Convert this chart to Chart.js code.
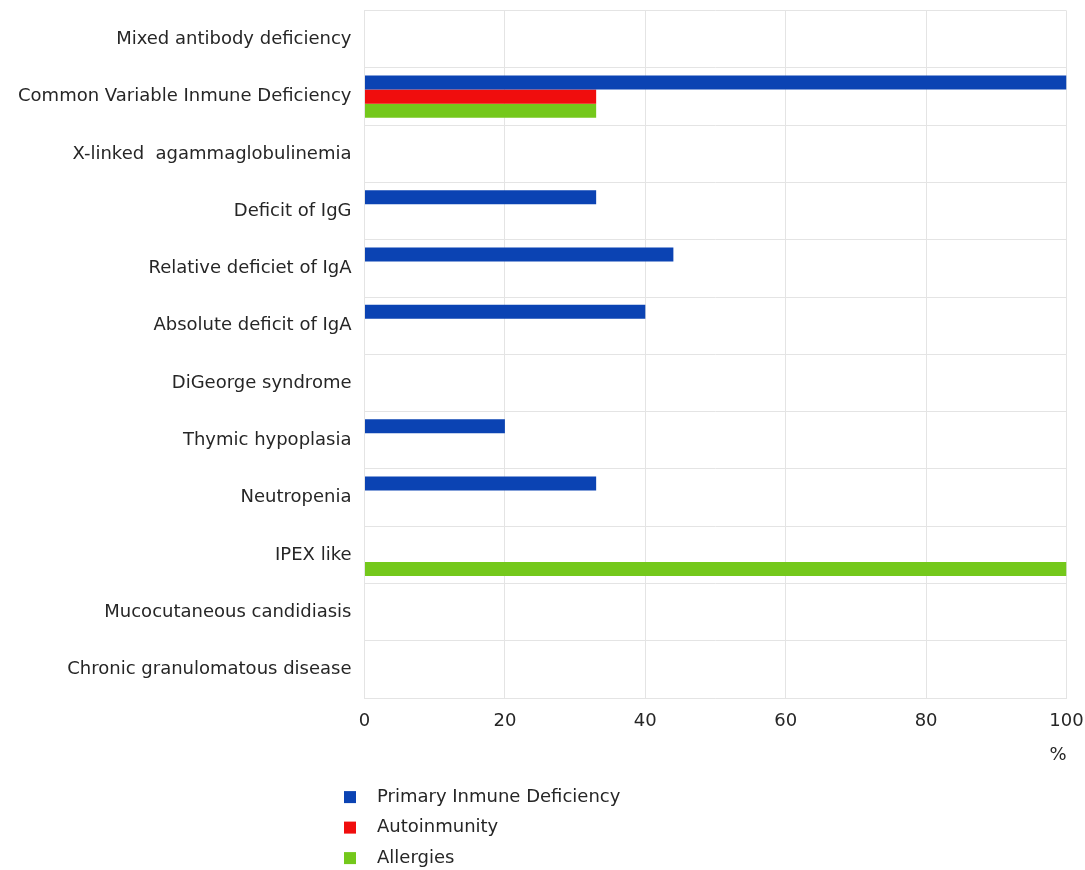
<!DOCTYPE html>
<html>
<head>
<meta charset="utf-8">
<script src="https://cdn.jsdelivr.net/npm/chart.js@4.4.1/dist/chart.umd.min.js"></script>
<style>
  html, body { margin: 0; padding: 0; background: #ffffff; }
  #wrap { position: relative; width: 1085px; height: 870px; }
</style>
</head>
<body>
<div id="wrap"><canvas id="chart" width="1085" height="870"></canvas></div>
<script>
// Disorders shown on the category axis, top to bottom
const categories = [
  'Mixed antibody deficiency',
  'Common Variable Inmune Deficiency',
  'X-linked  agammaglobulinemia',
  'Deficit of IgG',
  'Relative deficiet of IgA',
  'Absolute deficit of IgA',
  'DiGeorge syndrome',
  'Thymic hypoplasia',
  'Neutropenia',
  'IPEX like',
  'Mucocutaneous candidiasis',
  'Chronic granulomatous disease'
];

// Percentages per disorder
const primaryDeficiency = [0, 100, 0, 33, 44, 40, 0, 20, 33, 0, 0, 0];
const autoimmunity      = [0, 33, 0, 0, 0, 0, 0, 0, 0, 0, 0, 0];
const allergies         = [0, 33, 0, 0, 0, 0, 0, 0, 0, 100, 0, 0];

const seriesNames = ['Primary Inmune Deficiency', 'Autoinmunity', 'Allergies'];
const seriesColors = ['#0b43b3', '#f00d0d', '#74c81b'];

const xTicks = [0, 20, 40, 60, 80, 100];
const xUnit = '%';

const FONT = 'DejaVu Sans';
const TEXT = '#262626';
const GRID = '#e4e4e4';

// Vertical legend drawn under the axis, left side
const stackedLegend = {
  id: 'stackedLegend',
  afterDraw(chart) {
    const ctx = chart.ctx;
    const base = chart.chartArea.bottom + 99;
    ctx.save();
    ctx.font = '18px "' + FONT + '"';
    ctx.textBaseline = 'middle';
    ctx.textAlign = 'left';
    chart.data.datasets.forEach((ds, i) => {
      const y = base + i * 30.5;
      ctx.fillStyle = ds.backgroundColor;
      ctx.fillRect(344, y - 6, 12, 12);
      ctx.fillStyle = TEXT;
      ctx.fillText(ds.label, 377, y);
    });
    ctx.restore();
  }
};

const datasets = [primaryDeficiency, autoimmunity, allergies].map((values, i) => ({
  label: seriesNames[i],
  data: values,
  backgroundColor: seriesColors[i],
  borderWidth: 0,
  categoryPercentage: 0.734,
  barPercentage: 1.0
}));

new Chart(document.getElementById('chart'), {
  type: 'bar',
  data: { labels: categories, datasets },
  options: {
    indexAxis: 'y',
    responsive: false,
    animation: false,
    devicePixelRatio: 1,
    layout: { padding: { top: 10.7, right: 18.5, left: 0, bottom: 99.7 } },
    plugins: {
      legend: { display: false },
      tooltip: { enabled: false }
    },
    scales: {
      x: {
        min: 0,
        max: 100,
        afterBuildTicks(scale) {
          scale.ticks = xTicks.map(v => ({ value: v }));
        },
        afterFit(scale) {
          scale.paddingLeft = 0;
          scale.paddingRight = 0;
        },
        grid: { color: GRID, drawTicks: false },
        border: { display: true, color: GRID },
        ticks: {
          padding: 12,
          maxRotation: 0,
          color: TEXT,
          font: { family: FONT, size: 18 }
        },
        title: {
          display: true,
          text: xUnit,
          align: 'end',
          color: TEXT,
          font: { family: FONT, size: 18 },
          padding: { top: 1, bottom: 4 }
        }
      },
      y: {
        afterFit(scale) {
          scale.width = 364.5;
          scale.paddingTop = 0;
          scale.paddingBottom = 0;
        },
        grid: { color: GRID, drawTicks: false, offset: true },
        border: { display: true, color: GRID },
        ticks: {
          padding: 13,
          color: TEXT,
          font: { family: FONT, size: 18 }
        }
      }
    }
  },
  plugins: [stackedLegend]
});
</script>
</body>
</html>
